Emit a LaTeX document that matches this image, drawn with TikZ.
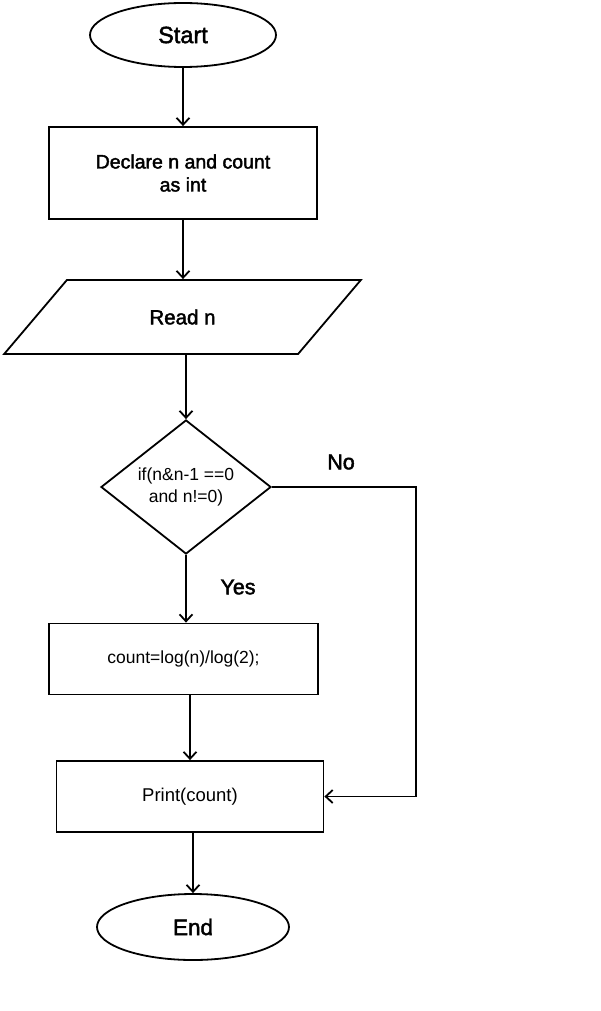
\documentclass[tikz,border=0pt]{standalone}
\usepackage{fontspec}
\setmainfont{Liberation Sans}
\newfontfamily\medfont{Liberation Sans}[FakeBold=2]
\usetikzlibrary{shapes.geometric,arrows.meta}

\begin{document}
\begin{tikzpicture}[x=1pt,y=-1pt]
    \useasboundingbox (0,0) rectangle (600,1011);
    \begin{scope}[every node/.style={draw,line width=1.8pt,inner sep=0pt,align=center}]
        \node[ellipse,minimum width=186pt,minimum height=64pt,font=\medfont\fontsize{23.5}{27}\selectfont] (start) at (183,35) {Start};
        \node[rectangle,minimum width=268pt,minimum height=92pt,font=\medfont\fontsize{19.5}{23}\selectfont] (declare) at (183,173) {Declare n and count\\as int};
        \node[trapezium,trapezium left angle=40,trapezium right angle=140,trapezium stretches=true,
              minimum width=357pt,minimum height=74pt,font=\medfont\fontsize{20.5}{24}\selectfont] (read) at (182.5,317) {Read n};
        \node[diamond,aspect=1.27,minimum width=170pt,minimum height=134pt,font=\fontsize{17.5}{22}\selectfont] (cond) at (186,487) {if(n\&n-1 ==0\\and n!=0)};
        \node[rectangle,minimum width=269pt,minimum height=71pt,font=\fontsize{17.5}{21}\selectfont] (count) at (183.5,659) {count=log(n)/log(2);};
        \node[rectangle,minimum width=267pt,minimum height=71pt,font=\fontsize{18.5}{22}\selectfont] (print) at (190,796.5) {Print(count)};
        \node[ellipse,minimum width=192pt,minimum height=66pt,font=\medfont\fontsize{22.5}{26}\selectfont] (stop) at (193,927) {End};
    \end{scope}
    \begin{scope}[every node/.style={font=\medfont\fontsize{21.5}{25}\selectfont}]
        \node (no) at (341,462) {No};
        \node (yes) at (238,587) {Yes};
    \end{scope}
    \coordinate (bend) at (416,487);
    \begin{scope}[every edge/.style={draw=black,line width=1.8pt,-{Straight Barb[length=7pt,width=13pt]}}]
        \path (start) edge (declare);
        \path (declare.south) edge (declare.south |- read.north);
        \path (cond.north |- read.south) edge (cond.north);
        \path (cond.south) edge (cond.south |- count.north);
        \path (print.north |- count.south) edge (print.north);
        \path (stop.north |- print.south) edge (stop.north);
        \draw[line width=1.8pt,-{Straight Barb[length=7pt,width=13pt]}] (cond.east) -| (bend) |- (print.east);
    \end{scope}
\end{tikzpicture}
\end{document}
